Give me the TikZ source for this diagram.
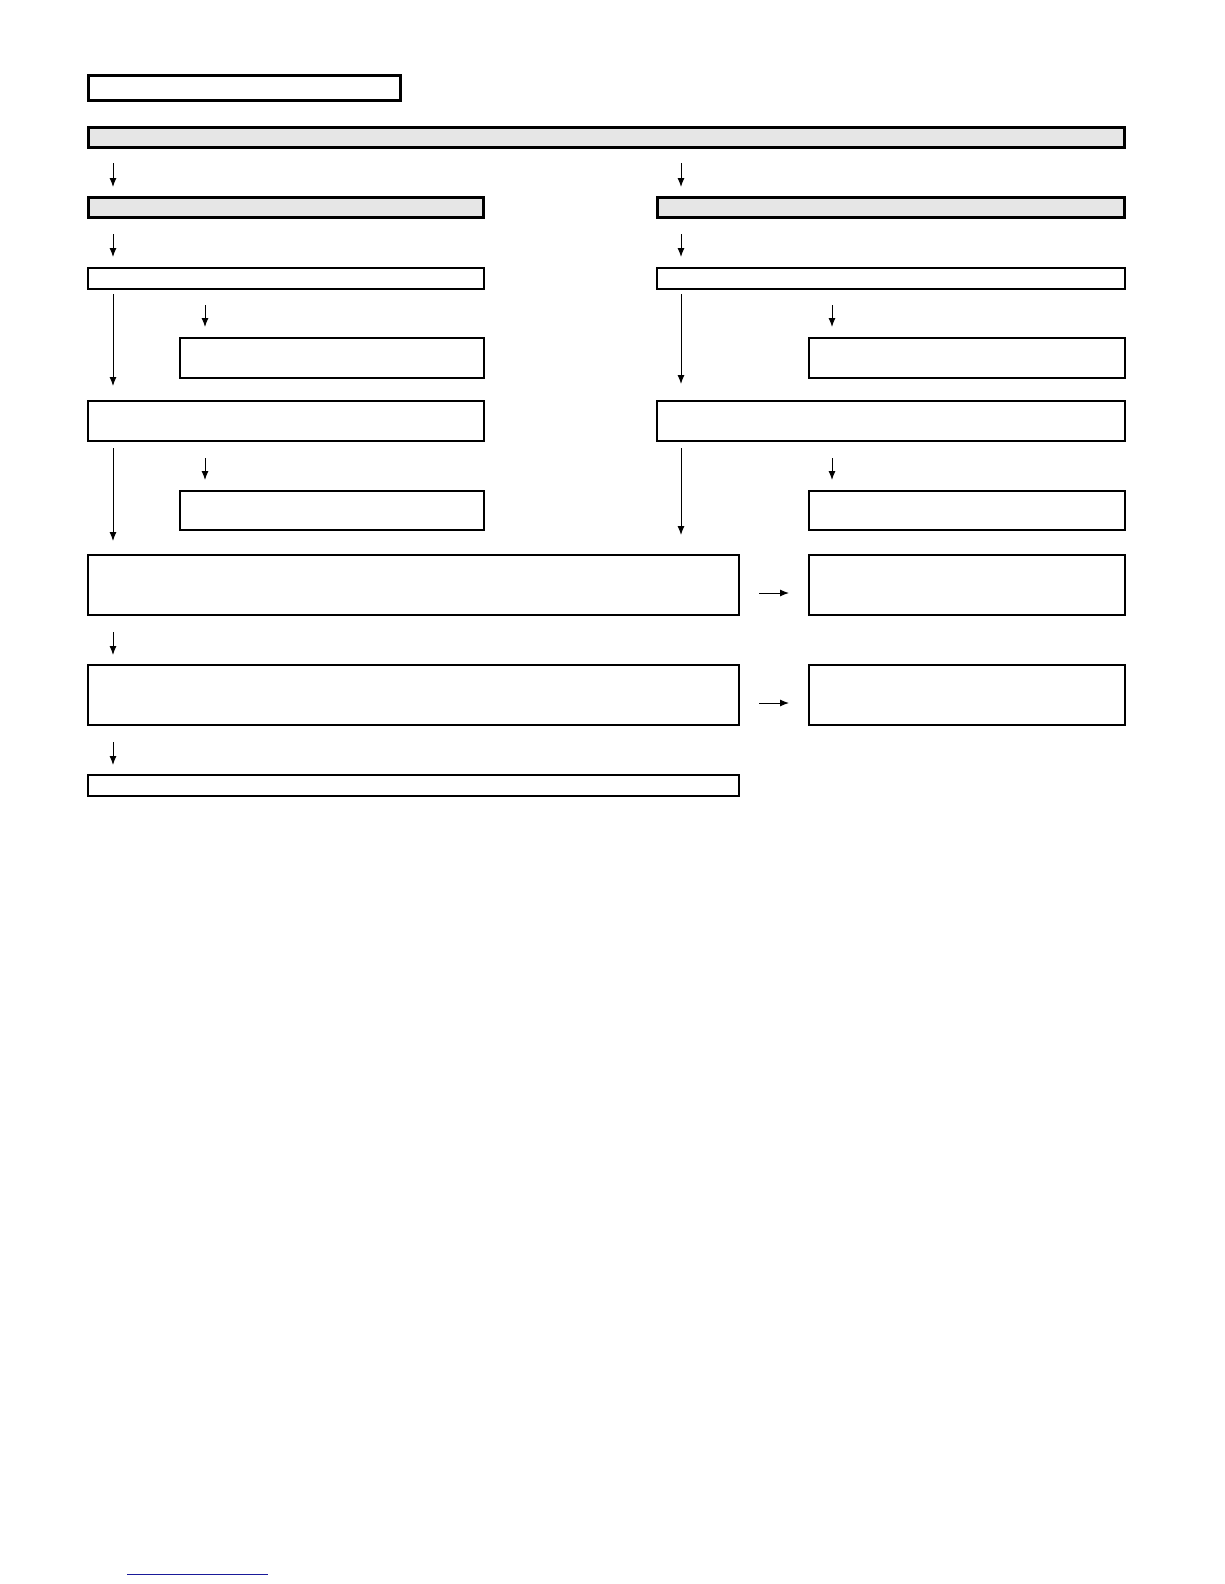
\documentclass[tikz,border=0pt]{standalone}
\usetikzlibrary{arrows.meta}
\definecolor{hdrgray}{HTML}{E6E6E6}
\definecolor{linkblue}{HTML}{1A1A9A}
\begin{document}
\begin{tikzpicture}[x=1pt,y=-1pt,
  thickbox/.style={draw=black, line width=3.5pt, inner sep=0pt, outer sep=0pt, anchor=north west},
  thinbox/.style={draw=black, line width=1.2pt, inner sep=0pt, outer sep=0pt, anchor=north west, fill=white},
  grayfill/.style={fill=hdrgray},
  arr/.style={draw=black, line width=1pt, -{Latex[length=9pt,width=7pt]}}]
\useasboundingbox (0,0) rectangle (1224,1584);
\fill[white] (0,0) rectangle (1224,1584);
% column coordinates
\coordinate (xl) at (113,0);
\coordinate (xr) at (681,0);
\coordinate (xs) at (205,0);
\coordinate (xt) at (832,0);
\coordinate (yA) at (0,593);
\coordinate (yB) at (0,703);
% thick boxes
\node[thickbox, fill=white, minimum width=312pt, minimum height=25pt] (title) at (88.5,75.5) {};
\node[thickbox, grayfill, minimum width=1036pt, minimum height=20pt] (hdr) at (88.5,127.5) {};
\node[thickbox, grayfill, minimum width=395pt, minimum height=20pt] (LH) at (88.5,197.5) {};
\node[thickbox, grayfill, minimum width=467pt, minimum height=20pt] (RH) at (657.5,197.5) {};
% thin boxes
\node[thinbox, minimum width=396pt, minimum height=21pt] (L1) at (88,268) {};
\node[thinbox, minimum width=468pt, minimum height=21pt] (R1) at (657,268) {};
\node[thinbox, minimum width=304pt, minimum height=40pt] (L2) at (180,338) {};
\node[thinbox, minimum width=316pt, minimum height=40pt] (R2) at (809,338) {};
\node[thinbox, minimum width=396pt, minimum height=40pt] (L3) at (88,401) {};
\node[thinbox, minimum width=468pt, minimum height=40pt] (R3) at (657,401) {};
\node[thinbox, minimum width=304pt, minimum height=39pt] (L4) at (180,491) {};
\node[thinbox, minimum width=316pt, minimum height=39pt] (R4) at (809,491) {};
\node[thinbox, minimum width=651pt, minimum height=60pt] (B1) at (88,555) {};
\node[thinbox, minimum width=316pt, minimum height=60pt] (S1) at (809,555) {};
\node[thinbox, minimum width=651pt, minimum height=60pt] (B2) at (88,665) {};
\node[thinbox, minimum width=316pt, minimum height=60pt] (S2) at (809,665) {};
\node[thinbox, minimum width=651pt, minimum height=21pt] (B3) at (88,775) {};
% arrows
\draw[arr, shorten <=15.5pt, shorten >=10.5pt] (hdr.south -| xl) -- (LH.north -| xl);
\draw[arr, shorten <=15.5pt, shorten >=10.5pt] (hdr.south -| xr) -- (RH.north -| xr);
\draw[arr, shorten <=16.5pt, shorten >=11pt] (LH.south -| xl) -- (L1.north -| xl);
\draw[arr, shorten <=16.5pt, shorten >=11pt] (RH.south -| xr) -- (R1.north -| xr);
\draw[arr, shorten <=5pt, shorten >=15pt] (L1.south -| xl) -- (L3.north -| xl);
\draw[arr, shorten <=5pt, shorten >=17pt] (R1.south -| xr) -- (R3.north -| xr);
\draw[arr, shorten <=16pt, shorten >=11pt] (L1.south -| xs) -- (L2.north -| xs);
\draw[arr, shorten <=16pt, shorten >=11pt] (R1.south -| xt) -- (R2.north -| xt);
\draw[arr, shorten <=7pt, shorten >=14pt] (L3.south -| xl) -- (B1.north -| xl);
\draw[arr, shorten <=7pt, shorten >=20pt] (R3.south -| xr) -- (B1.north -| xr);
\draw[arr, shorten <=17pt, shorten >=11pt] (L3.south -| xs) -- (L4.north -| xs);
\draw[arr, shorten <=17pt, shorten >=11pt] (R3.south -| xt) -- (R4.north -| xt);
\draw[arr, shorten <=20pt, shorten >=20pt] (B1.east |- yA) -- (S1.west |- yA);
\draw[arr, shorten <=17pt, shorten >=10pt] (B1.south -| xl) -- (B2.north -| xl);
\draw[arr, shorten <=20pt, shorten >=20pt] (B2.east |- yB) -- (S2.west |- yB);
\draw[arr, shorten <=17pt, shorten >=10pt] (B2.south -| xl) -- (B3.north -| xl);
% link underline at bottom
\draw[linkblue, line width=1pt] (127,1574) -- (268,1574);
\end{tikzpicture}
\end{document}
